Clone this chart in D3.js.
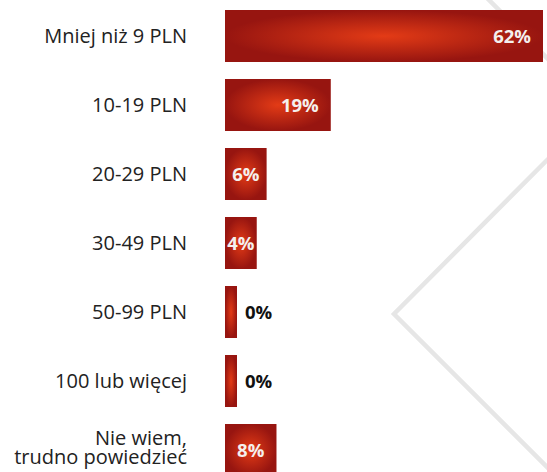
<html>
<head>
    <meta charset="utf-8">
    <title>ceny</title>
    <style>
    body {
        margin: 0;
        padding: 0;
        background: #ffffff;
        font-family: "Open Sans";
    }
    svg {
        display: block;
    }
    .label {
        fill: #222222;
        font-size: 20px;
    }
    .value {
        font-weight: bold;
        font-size: 18.5px;
    }
    .bgline {
        stroke: #e6e6e6;
        stroke-width: 4.5;
        fill: none;
    }
    </style>
</head>
<body>
    <svg width="547" height="472"></svg>
    <script src="https://d3js.org/d3.v7.min.js"></script>
    <script>
    // dane
    var categories = ["Mniej niż 9 PLN", "10-19 PLN", "20-29 PLN", "30-49 PLN", "50-99 PLN", "100 lub więcej", "Nie wiem,\ntrudno powiedzieć"];
    var values = [62, 19, 6, 4, 0, 0, 8];

    var width = 547, height = 472;
    var left = 225;
    var labelX = 187;

    var svg = d3.select("svg");

    // tlo - szare linie
    var bg = svg.append("g");
    bg.append("polyline")
        .attr("class", "bgline")
        .attr("points", "560,147 394,314 560,480");
    bg.append("line")
        .attr("class", "bgline")
        .attr("x1", 487).attr("y1", -2)
        .attr("x2", 560).attr("y2", 71);

    // gradient
    var defs = svg.append("defs");
    var grad = defs.append("radialGradient")
        .attr("id", "barGrad")
        .attr("cx", 0.5).attr("cy", 0.5).attr("r", 0.5);
    grad.append("stop").attr("offset", "0%").attr("stop-color", "#e33b16");
    grad.append("stop").attr("offset", "100%").attr("stop-color", "#971510");

    // krok 69px, slupek 52px
    var y = d3.scaleBand()
        .domain(categories)
        .range([1.5, 1.5 + 69 * 7])
        .paddingInner(17 / 69)
        .paddingOuter(17 / 138);

    // najmniejszy slupek ma ok 12px
    var x = d3.scaleLinear()
        .domain([0, 62])
        .range([12, 318]);

    var rows = svg.selectAll(".row")
        .data(categories)
        .enter()
        .append("g")
        .attr("class", "row")
        .attr("transform", function(d) { return "translate(0," + y(d) + ")" });

    rows.append("rect")
        .attr("x", left)
        .attr("y", 0)
        .attr("width", function(d, i) { return x(values[i]) })
        .attr("height", y.bandwidth())
        .style("fill", "url(#barGrad)");

    // etykiety kategorii
    rows.append("text")
        .attr("class", "label")
        .attr("text-anchor", "end")
        .attr("x", labelX)
        .each(function(d) {
            var lines = d.split("\n");
            var t = d3.select(this);
            var start = y.bandwidth() / 2 + 7 - (lines.length - 1) * 12.5;
            lines.forEach(function(l, j) {
                t.append("tspan")
                    .attr("x", labelX)
                    .attr("y", start + j * 19)
                    .text(l);
            });
        });

    // wartosci
    rows.append("text")
        .attr("class", "value")
        .attr("y", y.bandwidth() / 2 + 6.5)
        .attr("x", function(d, i) {
            var w = x(values[i]);
            if (values[i] == 0) return left + w + 8;
            if (w > 70) return Math.min(left + w, width) - 12;
            return left + w / 2;
        })
        .attr("text-anchor", function(d, i) {
            var w = x(values[i]);
            if (values[i] == 0) return "start";
            if (w > 70) return "end";
            return "middle";
        })
        .style("fill", function(d, i) { return values[i] == 0 ? "#111111" : "#f4f0ee" })
        .text(function(d, i) { return values[i] + "%" });
    </script>
</body>
</html>
